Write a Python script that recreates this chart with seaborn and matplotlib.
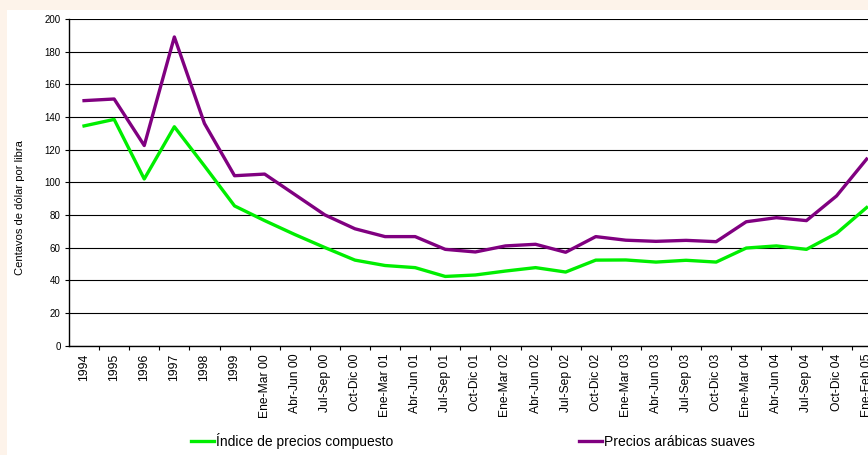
import matplotlib
matplotlib.use("Agg")
import matplotlib.pyplot as plt
from matplotlib.patches import Rectangle
from matplotlib.ticker import FixedLocator, MultipleLocator
import pandas as pd
import seaborn as sns

# periods on the x axis
periods = ["1994", "1995", "1996", "1997", "1998", "1999",
           "Ene-Mar 00", "Abr-Jun 00", "Jul-Sep 00", "Oct-Dic 00",
           "Ene-Mar 01", "Abr-Jun 01", "Jul-Sep 01", "Oct-Dic 01",
           "Ene-Mar 02", "Abr-Jun 02", "Jul-Sep 02", "Oct-Dic 02",
           "Ene-Mar 03", "Abr-Jun 03", "Jul-Sep 03", "Oct-Dic 03",
           "Ene-Mar 04", "Abr-Jun 04", "Jul-Sep 04", "Oct-Dic 04",
           "Ene-Feb 05"]

# cents per pound
compuesto = [134.5, 138.5, 102, 134, 110, 85.5,
             76.5, 68, 60, 52.3,
             49, 47.7, 42.3, 43.2,
             45.6, 47.7, 45, 52.3,
             52.4, 51.1, 52.2, 51.1,
             59.7, 61, 58.9, 68.7,
             84.5]
arabicas = [150, 151, 122.5, 189, 136, 104,
            105, 92.5, 80, 71.5,
            66.7, 66.7, 58.9, 57.3,
            61, 62, 57.1, 66.7,
            64.5, 63.8, 64.4, 63.6,
            75.8, 78.3, 76.5, 91.6,
            114.2]

serie_names = ["Índice de precios compuesto", "Precios arábicas suaves"]
serie_colors = ["#00ee00", "#800080"]

df = pd.DataFrame({"periodo": periods,
                   serie_names[0]: compuesto,
                   serie_names[1]: arabicas})
long_df = df.melt(id_vars="periodo", var_name="serie", value_name="valor")

plt.rcParams["font.family"] = ["Liberation Sans", "DejaVu Sans"]

fig = plt.figure(figsize=(8.68, 4.55), dpi=100)
fig.patch.set_facecolor("#fdf3ea")
fig.patches.append(Rectangle((7 / 868, 0), 1, 1 - 10 / 455,
                             transform=fig.transFigure, facecolor="white",
                             edgecolor="none", zorder=-5))

# axes runs past the right edge, like the cropped original
ax = fig.add_axes([69 / 868, 1 - 345.5 / 455, 812.7 / 868, 326.5 / 455])
ax.set_facecolor("white")

sns.lineplot(data=long_df, x="periodo", y="valor", hue="serie",
             hue_order=serie_names, palette=serie_colors,
             linewidth=2.4, sort=False, ax=ax)

ax.set_xlim(-0.5, len(periods) - 0.5)
ax.set_ylim(0, 200)
ax.yaxis.set_major_locator(MultipleLocator(20))
ax.grid(axis="y", color="black", linewidth=0.8)
ax.set_axisbelow(True)

for side in ["top", "right"]:
    ax.spines[side].set_visible(False)
ax.spines["left"].set_linewidth(1.0)
ax.spines["bottom"].set_linewidth(1.0)

ax.set_xticks(range(len(periods)))
ax.set_xticklabels(periods, rotation=90, fontsize=8.7)
ax.xaxis.set_minor_locator(FixedLocator([i + 0.5 for i in range(len(periods))]))
ax.tick_params(axis="x", which="major", length=0, pad=6)
ax.tick_params(axis="x", which="minor", length=3, width=0.8, color="black")
ax.tick_params(axis="y", length=3, width=0.8, labelsize=7, pad=3)

ax.set_xlabel("")
ax.set_ylabel("Centavos de dólar por libra", fontsize=8)
ax.yaxis.set_label_coords(-0.054, 0.4227)

handles, labels = ax.get_legend_handles_labels()
ax.legend_.remove()
fig.legend(handles, labels, loc="center", bbox_to_anchor=(473 / 868, 1 - 441 / 455),
           ncol=2, frameon=False, fontsize=10, handlelength=1.65,
           handletextpad=0.15, columnspacing=13.4)

fig.savefig("out.png", dpi=100, facecolor=fig.get_facecolor())
